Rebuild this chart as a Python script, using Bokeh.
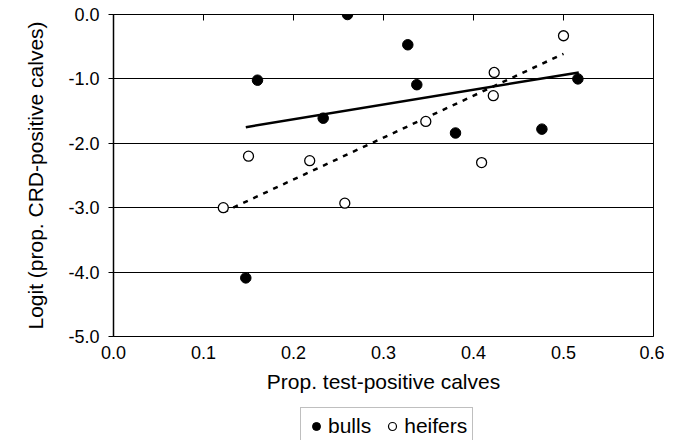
from bokeh.plotting import figure
from bokeh.layouts import column
from bokeh.models import (Range1d, LinearAxis, FixedTicker, Legend, LegendItem,
                          NumeralTickFormatter, CustomJSTickFormatter)
from bokeh.embed import file_html
from bokeh.resources import INLINE

# ---- data ----
bulls_x = [0.147, 0.160, 0.233, 0.260, 0.327, 0.337, 0.380, 0.476, 0.516]
bulls_y = [-4.09, -1.02, -1.61, 0.00, -0.47, -1.09, -1.84, -1.78, -1.00]
heifers_x = [0.122, 0.150, 0.218, 0.257, 0.347, 0.409, 0.422, 0.423, 0.500]
heifers_y = [-3.00, -2.20, -2.27, -2.93, -1.66, -2.30, -1.26, -0.90, -0.33]
bulls_trend_x = [0.147, 0.517]
bulls_trend_y = [-1.75, -0.90]
heifers_trend_x = [0.122, 0.500]
heifers_trend_y = [-3.07, -0.61]
x_ticks = [0.0, 0.1, 0.2, 0.3, 0.4, 0.5, 0.6]
y_ticks = [0.0, -1.0, -2.0, -3.0, -4.0, -5.0]
grid_levels = [-1.0, -2.0, -3.0, -4.0]
series_names = ["bulls", "heifers"]

FONT = "Liberation Sans"
TICK_FS = "18px"
LABEL_FS = "21px"
NAN = float("nan")

p = figure(width=664, height=407, output_backend="svg", toolbar_location=None,
           x_range=Range1d(0, 0.6), y_range=Range1d(-5, 0),
           min_border_left=113, min_border_right=11, min_border_top=14,
           min_border_bottom=71)
p.background_fill_color = "white"
p.border_fill_color = "white"
p.outline_line_color = "black"
p.outline_line_width = 1

# x axis (bottom): labels only
xa = p.xaxis[0]
xa.ticker = FixedTicker(ticks=x_ticks)
xa.formatter = NumeralTickFormatter(format="0.0")
xa.major_tick_in = 0
xa.major_tick_out = 0
xa.minor_tick_line_color = None
xa.axis_line_color = "black"
xa.axis_line_width = 1
xa.major_label_text_font = FONT
xa.major_label_text_font_size = TICK_FS
xa.major_label_text_color = "black"
xa.major_label_standoff = 9
xa.axis_label = "Prop. test-positive calves"
xa.axis_label_text_font = FONT
xa.axis_label_text_font_size = LABEL_FS
xa.axis_label_text_font_style = "normal"
xa.axis_label_text_color = "black"
xa.axis_label_standoff = 8

# y axis (left)
ya = p.yaxis[0]
ya.ticker = FixedTicker(ticks=y_ticks)
ya.formatter = NumeralTickFormatter(format="0.0")
ya.major_tick_in = 0
ya.major_tick_out = 5
ya.minor_tick_line_color = None
ya.axis_line_color = "black"
ya.axis_line_width = 1.5
ya.major_tick_line_color = "black"
ya.major_label_text_font = FONT
ya.major_label_text_font_size = TICK_FS
ya.major_label_text_color = "black"
ya.major_label_standoff = 9
ya.axis_label = "Logit (prop. CRD-positive calves)"
ya.axis_label_text_font = FONT
ya.axis_label_text_font_size = LABEL_FS
ya.axis_label_text_font_style = "normal"
ya.axis_label_text_color = "black"
ya.axis_label_standoff = 18

# top axis: inward tick marks only
top = LinearAxis(ticker=FixedTicker(ticks=x_ticks),
                 formatter=CustomJSTickFormatter(code="return ''"),
                 major_tick_in=6, major_tick_out=0, minor_tick_line_color=None,
                 axis_line_color="black", major_tick_line_color="black",
                 major_label_standoff=0)
p.add_layout(top, "above")

p.xgrid.visible = False
p.ygrid.ticker = FixedTicker(ticks=grid_levels)
p.ygrid.grid_line_color = "black"
p.ygrid.grid_line_alpha = 1.0
p.ygrid.grid_line_width = 1

# trend lines
p.line(bulls_trend_x, bulls_trend_y, line_color="black", line_width=2.5)
p.line(heifers_trend_x, heifers_trend_y, line_color="black", line_width=2.5,
       line_dash="5 6")

# points
p.scatter(bulls_x, bulls_y, marker="circle", size=10.5,
          fill_color="black", line_color="black", line_width=1)
p.scatter(heifers_x, heifers_y, marker="circle", size=10,
          fill_color="white", line_color="black", line_width=1.3)

# ---- legend strip below the chart ----
lf = figure(width=664, height=33, output_backend="svg", toolbar_location=None,
            x_range=Range1d(0, 1), y_range=Range1d(0, 1),
            x_axis_location=None, y_axis_location=None,
            min_border_left=0, min_border_right=0, min_border_top=0,
            min_border_bottom=0)
lf.outline_line_color = None
lf.xgrid.visible = False
lf.ygrid.visible = False
# legend-only renderers (no visible points)
lb = lf.scatter(x=[NAN], y=[NAN], marker="circle", size=10,
                fill_color="black", line_color="black", line_width=1)
lh = lf.scatter(x=[NAN], y=[NAN], marker="circle", size=10,
                fill_color="white", line_color="black", line_width=1.2)
legend = Legend(items=[LegendItem(label=series_names[0], renderers=[lb]),
                       LegendItem(label=series_names[1], renderers=[lh])],
                orientation="horizontal", location=(187, -5))
legend.label_text_font = FONT
legend.label_text_font_size = LABEL_FS
legend.label_text_color = "black"
legend.border_line_color = "#808080"
legend.border_line_width = 1.5
legend.glyph_width = 20
legend.glyph_height = 26
legend.label_standoff = 2
legend.spacing = 11
legend.padding = 5
legend.margin = 0
lf.add_layout(legend, "center")

layout = column(p, lf, spacing=0)
open("out.html", "w").write(file_html(layout, INLINE))
